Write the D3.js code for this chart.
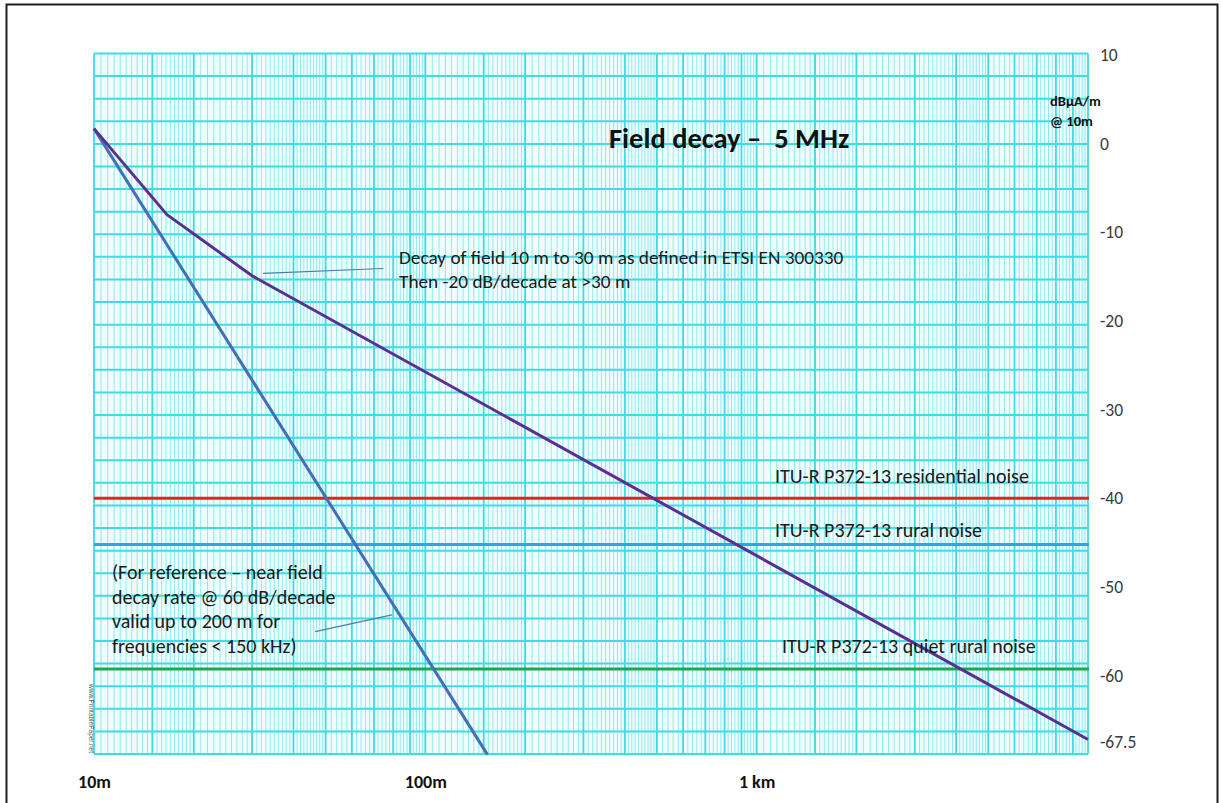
<!DOCTYPE html>
<html><head><meta charset="utf-8">
<script src="https://cdn.jsdelivr.net/npm/d3@7"></script>
<style>
body{margin:0;background:#fff;}
svg text{font-family:Carlito, Calibri, Lato, "Open Sans", sans-serif;}
</style>
</head><body>
<svg id="chart" width="1222" height="803"></svg>
<script>
// ---------- data ----------
const xTickValues = [10, 100, 1000];
const xTickLabels = ["10m", "100m", "1 km"];
const yTickValues = [10, 0, -10, -20, -30, -40, -50, -60, -67.5];

// Field decay (10 m to 30 m per ETSI EN 300330, then -20 dB/decade)
const farDistance = [10, 16.6, 30, 10000];
const farLevel = [1.7, -8.0, -14.9, -67.2];

// Near-field reference, 60 dB/decade
const nearDistance = [10, 154];
const nearLevel = [1.7, -68.9];

// ITU-R P372-13 noise levels
const noiseNames = ["ITU-R P372-13 residential noise", "ITU-R P372-13 rural noise", "ITU-R P372-13 quiet rural noise"];
const noiseLevels = [-40, -45.2, -59.25];

// ---------- styles ----------
const noiseColors = ["#E2231E", "#2BA7DA", "#1FA64E"];
const farColor = "#5B2F92";
const nearColor = "#4270B6";

const svg = d3.select("#chart");
const plot = {left: 94, right: 1088, top: 53.5, bottom: 754};

const x = d3.scaleLog().domain([10, 10000]).range([plot.left, plot.right]);
const y = d3.scaleLinear().domain([10, -67.5]).range([55, 55 + 77.5 * 8.867]);

// ---------- outer frame ----------
svg.append("rect").attr("x", 6.5).attr("y", 4.5).attr("width", 1211).attr("height", 830)
  .attr("fill", "#fff").attr("stroke", "#1e1e1e").attr("stroke-width", 2);

// ---------- log graph paper ----------
const paper = svg.append("g");
paper.append("rect").attr("x", plot.left).attr("y", plot.top)
  .attr("width", plot.right - plot.left).attr("height", plot.bottom - plot.top).attr("fill", "#f0fdfd");

const minorV = [], majorV = [];
[10, 100, 1000].forEach(D => {
  for (let m = 1; m < 2 - 1e-9; m += 0.05) minorV.push(D * m);
  for (let m = 2; m < 5 - 1e-9; m += 0.1) minorV.push(D * m);
  for (let m = 5; m < 10 - 1e-9; m += 0.2) minorV.push(D * m);
  [1, 1.5, 2, 3, 4, 5, 6, 7, 8, 9].forEach(m => majorV.push(D * m));
});
majorV.push(10000);

paper.selectAll("line.minv").data(minorV).join("line")
  .attr("x1", d => x(d)).attr("x2", d => x(d)).attr("y1", plot.top).attr("y2", plot.bottom)
  .attr("stroke", "#8FEBF0").attr("stroke-width", 1);

const gy = d3.scaleLinear().domain([0, 31]).range([plot.top, plot.bottom]);
paper.selectAll("line.h").data(d3.range(0, 32)).join("line")
  .attr("x1", plot.left).attr("x2", plot.right).attr("y1", d => gy(d)).attr("y2", d => gy(d))
  .attr("stroke", "#3FDCE3").attr("stroke-width", 2);

paper.selectAll("line.majv").data(majorV).join("line")
  .attr("x1", d => x(d)).attr("x2", d => x(d)).attr("y1", plot.top).attr("y2", plot.bottom)
  .attr("stroke", "#3FDCE3").attr("stroke-width", 1.8);

// watermark
svg.append("text").attr("transform", `translate(${plot.left - 5},${plot.bottom - 70}) rotate(90)`)
  .attr("font-size", 6.5).attr("fill", "#555").style("font-family", "Liberation Sans, sans-serif")
  .text("www.PrintablePaper.net");

// ---------- noise lines ----------
svg.selectAll("line.noise").data(noiseLevels).join("line")
  .attr("x1", plot.left).attr("x2", plot.right + 1)
  .attr("y1", d => y(d)).attr("y2", d => y(d))
  .attr("stroke", (d, i) => noiseColors[i]).attr("stroke-width", 3);

// ---------- decay lines ----------
const line = d3.line().x(d => x(d[0])).y(d => y(d[1]));
svg.append("path").datum(nearDistance.map((d, i) => [d, nearLevel[i]]))
  .attr("d", line).attr("fill", "none").attr("stroke", nearColor).attr("stroke-width", 3);
svg.append("path").datum(farDistance.map((d, i) => [d, farLevel[i]]))
  .attr("d", line).attr("fill", "none").attr("stroke", farColor).attr("stroke-width", 3)
  .attr("stroke-linejoin", "round");

// ---------- axes ----------
const yAxis = svg.append("g").attr("transform", `translate(${plot.right},0)`)
  .call(d3.axisRight(y).tickValues(yTickValues).tickSize(0).tickPadding(12)
    .tickFormat(d => String(d)));
yAxis.select(".domain").remove();
yAxis.selectAll("text").attr("font-size", 17.5).attr("fill", "#3a3a3a")
  .style("font-family", "Carlito, Calibri, Lato, sans-serif");

const xAxis = svg.append("g").attr("transform", `translate(0,${plot.bottom})`)
  .call(d3.axisBottom(x).tickValues(xTickValues).tickSize(0).tickPadding(21)
    .tickFormat((d, i) => xTickLabels[i]));
xAxis.select(".domain").remove();
xAxis.selectAll("text").attr("font-size", 18).attr("font-weight", "bold").attr("fill", "#111")
  .style("font-family", "Carlito, Calibri, Lato, sans-serif");

// unit label
svg.append("text").attr("x", 1050).attr("y", 106).attr("font-size", 14.5).attr("font-weight", "bold")
  .attr("fill", "#111").text("dBµA/m");
svg.append("text").attr("x", 1050).attr("y", 126).attr("font-size", 14.5).attr("font-weight", "bold")
  .attr("fill", "#111").text("@ 10m");

// title
svg.append("text").attr("x", 609).attr("y", 148).attr("font-size", 28.5).attr("font-weight", "bold")
  .attr("fill", "#111").style("white-space", "pre").text("Field decay –  5 MHz");

// ---------- annotations ----------
const ann = svg.append("g").attr("fill", "#1a1a1a").attr("font-size", 20).style("white-space", "pre");
ann.append("text").attr("x", 399).attr("y", 264).attr("font-size", 19.3)
  .text("Decay of field  10 m to 30 m as defined in ETSI EN 300330");
ann.append("text").attr("x", 399).attr("y", 288).attr("font-size", 19.3)
  .text("Then -20 dB/decade at >30 m");

[["(For reference – near field", 579], ["decay rate @ 60 dB/decade", 603.5], ["valid up to 200 m for", 628], ["frequencies < 150 kHz)", 652.5]]
  .forEach(([t, yy]) => ann.append("text").attr("x", 112).attr("y", yy).text(t));

ann.append("text").attr("x", 775).attr("y", 483).text(noiseNames[0]);
ann.append("text").attr("x", 775).attr("y", 537).text(noiseNames[1]);
ann.append("text").attr("x", 782).attr("y", 653).text(noiseNames[2]);

// leader lines (anchored in data space)
const leaders = [[[32.4, -14.62], [74.7, -14.08]], [[46.5, -55.04], [79.3, -53.15]]];
svg.selectAll("path.leader").data(leaders).join("path")
  .attr("d", line).attr("fill", "none").attr("stroke", "#4F7BA6").attr("stroke-width", 1.2);
</script>
</body></html>
